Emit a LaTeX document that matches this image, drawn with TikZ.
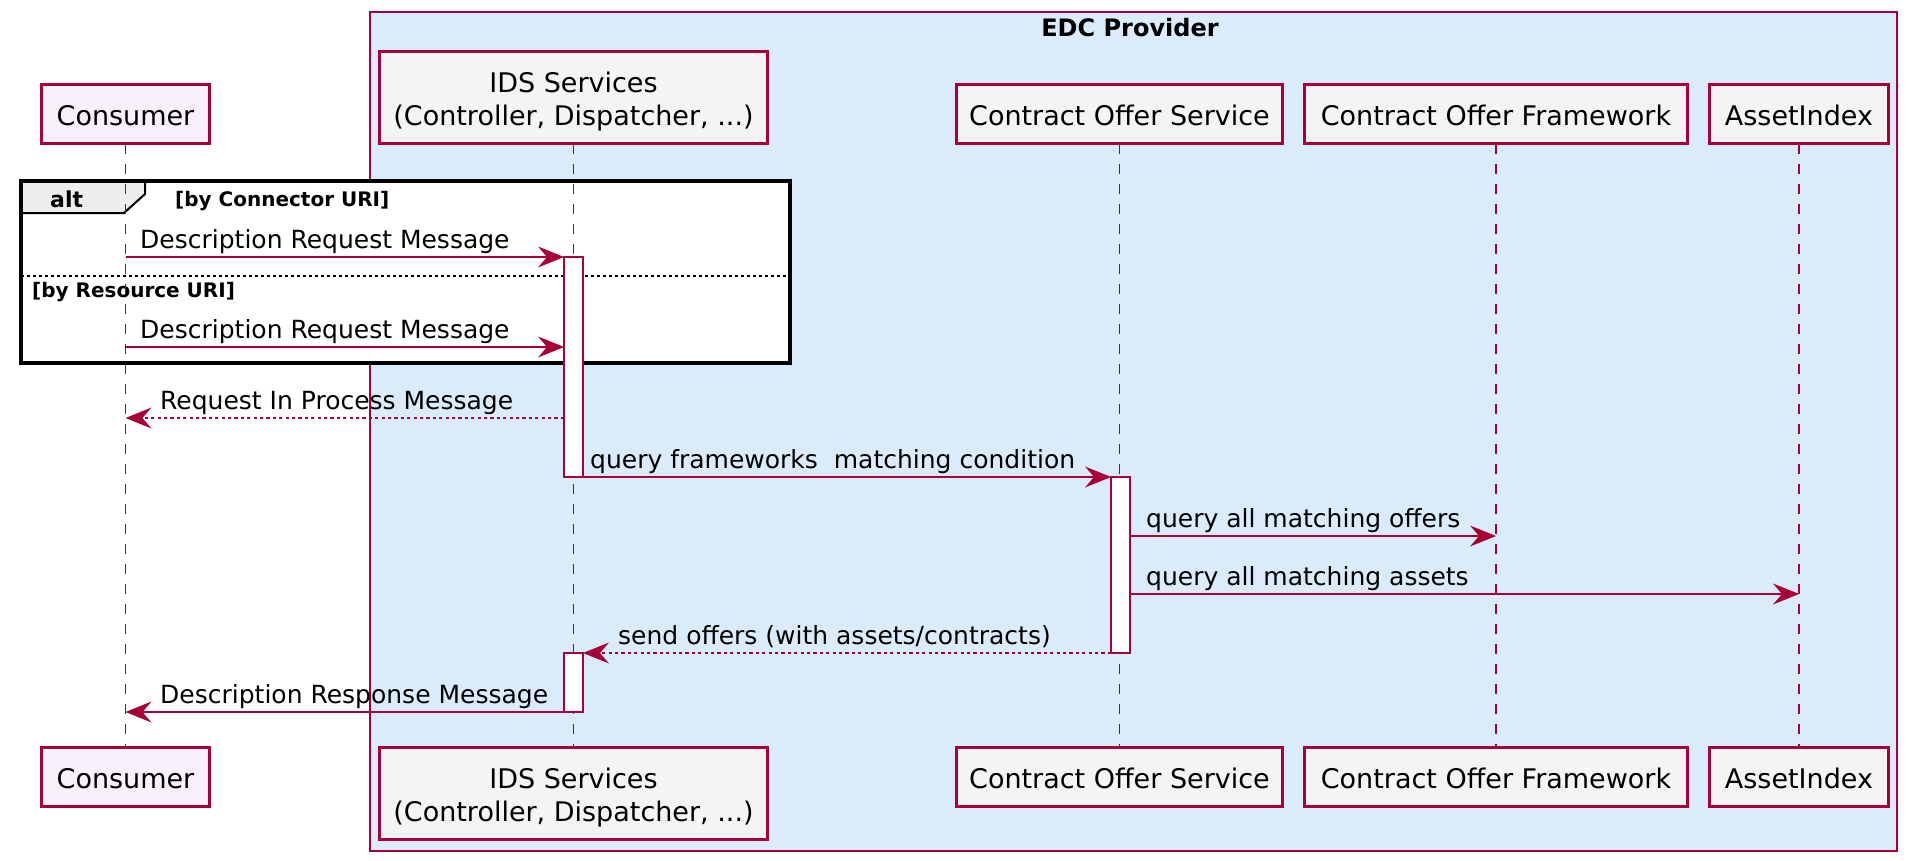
\documentclass[tikz,border=0pt]{standalone}
\usepackage{fontspec}
\setmainfont{DejaVu Sans}
\usetikzlibrary{arrows.meta}
\definecolor{crim}{RGB}{168,0,54}
\definecolor{provfill}{RGB}{218,235,252}
\definecolor{pfill}{RGB}{244,244,244}
\definecolor{cfill}{RGB}{247,241,252}
\definecolor{tabfill}{RGB}{238,238,238}
\newcommand\partfont{\fontsize{27}{33}\selectfont}
\newcommand\msgfont{\fontsize{25}{30}\selectfont}
\newcommand\guardfont{\bfseries\fontsize{20}{24}\selectfont}
\begin{document}
\begin{tikzpicture}[x=1pt,y=-1pt,
  pbox/.style={draw=crim,line width=3pt,fill=pfill,inner sep=0pt,outer sep=0pt,anchor=north west},
  provbox/.style={draw=crim,line width=1.9pt,fill=provfill,inner sep=0pt,outer sep=0pt,anchor=north west},
  ptext/.style={font=\partfont,inner sep=0pt,anchor=base},
  mtext/.style={font=\msgfont,inner sep=0pt,anchor=base west},
  gtext/.style={font=\guardfont,inner sep=0pt,anchor=base west},
  lifeline/.style={draw=crim,line width=1.6pt,dash pattern=on 10pt off 10pt},
  actbox/.style={draw=crim,line width=1.9pt,fill=white,inner sep=0pt,outer sep=0pt,anchor=north west,minimum width=19pt},
  msg/.style={draw=crim,line width=2pt,-{Stealth[length=26pt,width=21pt,inset=9pt,line width=0pt]}},
  ret/.style={msg,dash pattern=on 3.2pt off 3.2pt}]
\useasboundingbox (0,0) rectangle (1907,860);
% provider box
\node[provbox,minimum width=1527pt,minimum height=839pt] (prov) at (370,12) {};
\node[font=\bfseries\fontsize{24}{29}\selectfont,inner sep=0pt,anchor=base] (provtitle) at (1130,36) {EDC Provider};
% alt frame
\node[draw=none,fill=white,inner sep=0pt,outer sep=0pt,anchor=north west,minimum width=769pt,minimum height=182pt] (alt) at (21,181) {};
\draw[black,line width=2pt,fill=tabfill] (21,181) -- (145,181) -- (145,194) -- (124,213) -- (21,213) -- cycle;
\draw[black,line width=3.2pt] (alt.north west) rectangle (alt.south east);
\draw[black,line width=1.6pt,dash pattern=on 3pt off 3pt] (21,276) -- (790,276);
\node[font=\bfseries\fontsize{22}{26}\selectfont,inner sep=0pt,anchor=base west] (altlbl) at (50,207) {alt};
\node[gtext] (g1) at (175,206) {[by Connector URI]};
\node[gtext] (g2) at (32,297) {[by Resource URI]};
% participants top
\node[pbox,fill=cfill,minimum width=168pt,minimum height=59pt] (conT) at (41.5,84.5) {};
\node[pbox,minimum width=388pt,minimum height=92pt] (idsT) at (379.5,51.5) {};
\node[pbox,minimum width=326pt,minimum height=59pt] (cosT) at (956.5,84.5) {};
\node[pbox,minimum width=383pt,minimum height=59pt] (cofT) at (1304.5,84.5) {};
\node[pbox,minimum width=179pt,minimum height=59pt] (aiT) at (1709.5,84.5) {};
% participants bottom
\node[pbox,fill=cfill,minimum width=168pt,minimum height=59pt] (conB) at (41.5,747.5) {};
\node[pbox,minimum width=388pt,minimum height=92pt] (idsB) at (379.5,747.5) {};
\node[pbox,minimum width=326pt,minimum height=59pt] (cosB) at (956.5,747.5) {};
\node[pbox,minimum width=383pt,minimum height=59pt] (cofB) at (1304.5,747.5) {};
\node[pbox,minimum width=179pt,minimum height=59pt] (aiB) at (1709.5,747.5) {};
% participant texts
\node[ptext] (conTt) at (125.5,125) {Consumer};
\node[ptext] (idsTt1) at (573.5,92) {IDS Services};
\node[ptext] (idsTt2) at (573.5,125) {(Controller, Dispatcher, ...)};
\node[ptext] (cosTt) at (1119.5,125) {Contract Offer Service};
\node[ptext] (cofTt) at (1496,125) {Contract Offer Framework};
\node[ptext] (aiTt) at (1799,125) {AssetIndex};
\node[ptext] (conBt) at (125.5,788) {Consumer};
\node[ptext] (idsBt1) at (573.5,788) {IDS Services};
\node[ptext] (idsBt2) at (573.5,821) {(Controller, Dispatcher, ...)};
\node[ptext] (cosBt) at (1119.5,788) {Contract Offer Service};
\node[ptext] (cofBt) at (1496,788) {Contract Offer Framework};
\node[ptext] (aiBt) at (1799,788) {AssetIndex};
% lifelines
\draw[lifeline] (conT.south) -- (conB.north);
\draw[lifeline] (idsT.south) -- (idsB.north);
\draw[lifeline] (cosT.south) -- (cosB.north);
\draw[lifeline] (cofT.south) -- (cofB.north);
\draw[lifeline] (aiT.south) -- (aiB.north);
% activations
\node[actbox,minimum height=220pt] (a1) at (564,257) {};
\node[actbox,minimum height=176pt] (a2) at (1111,477) {};
\node[actbox,minimum height=59pt] (a3) at (564,653) {};
% message levels
\coordinate (y2) at (0,347);
\coordinate (y3) at (0,418);
\coordinate (y5) at (0,536);
\coordinate (y6) at (0,594);
% messages
\draw[msg] (conT.south |- a1.north west) -- (a1.north west);
\draw[msg] (conT.south |- y2) -- (a1.west |- y2);
\draw[ret] (a1.west |- y3) -- (conT.south |- y3);
\draw[msg] (a1.south east) -- (a2.north west);
\draw[msg] (a2.east |- y5) -- (cofT.south |- y5);
\draw[msg] (a2.east |- y6) -- (aiT.south |- y6);
\draw[ret] (a2.south west) -- (a3.north east);
\draw[msg] (a3.south west) -- (conT.south |- a3.south west);
% message labels
\node[mtext] (l1) at (140,248) {Description Request Message};
\node[mtext] (l2) at (140,338) {Description Request Message};
\node[mtext] (l3) at (160,409) {Request In Process Message};
\node[mtext] (l4) at (590,468) {query frameworks~ matching condition};
\node[mtext] (l5) at (1146,527) {query all matching offers};
\node[mtext] (l6) at (1146,585) {query all matching assets};
\node[mtext] (l7) at (618,644) {send offers (with assets/contracts)};
\node[mtext] (l8) at (160,703) {Description Response Message};
\end{tikzpicture}
\end{document}
